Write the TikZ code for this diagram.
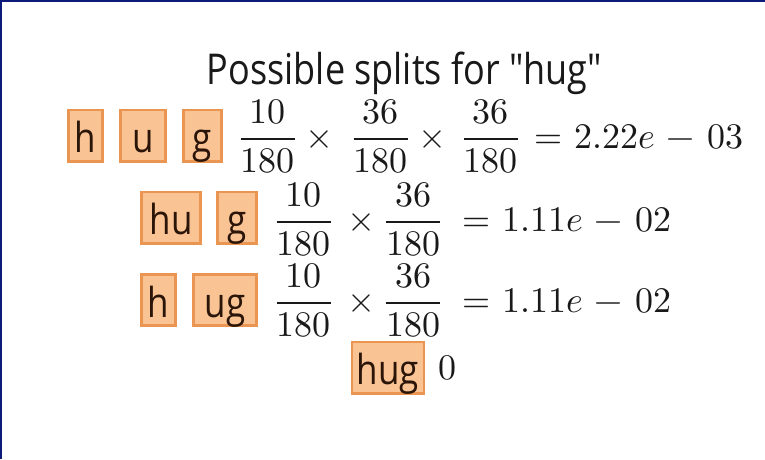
\documentclass[tikz,border=0pt]{standalone}
\usepackage{fontspec}
\usepackage{unicode-math}
\setmathfont{Latin Modern Math}
\usepackage{graphicx}
\newfontfamily\osans{Open Sans}
\definecolor{boxedge}{HTML}{EB9552}
\definecolor{boxfill}{HTML}{F9C394}
\definecolor{toktext}{HTML}{2A1508}
\definecolor{framec}{HTML}{0D1A7A}
\newcommand\vs[1]{\scalebox{1}[1.18]{#1}}
\begin{document}
\begin{tikzpicture}[x=1pt,y=-1pt,
  every node/.style={inner sep=0pt, font=\fontsize{36}{40}\selectfont, text=black!90},
  tok/.style={draw=boxedge, fill=boxfill, line width=2.8pt, minimum height=51.2pt,
    text height=38pt, text depth=4pt, inner xsep=5pt, inner ysep=0pt, text=toktext,
    font=\osans\fontsize{35}{40}\selectfont},
  mth/.style={anchor=base},
  eq/.style={anchor=base west, execute at begin node={\medmuskip=6mu\thickmuskip=6mu}}]
\useasboundingbox (0,0) rectangle (765,459);
\fill[white] (0,0) rectangle (765,459);
\coordinate (tr) at (765,1);
\coordinate (bl) at (1,459);
\draw[framec, line width=2pt] (bl) |- (tr);
% title
\node[anchor=base, font=\osans\fontsize{36}{40}\selectfont] (title) at (404.5,84) {\vs{Possible splits for "hug"}};
% row 1
\node[tok, minimum width=34.2pt] (r1h) at (85.5,135.5) {\vs{h}};
\node[tok, minimum width=45.2pt] (r1u) at (143,135.5) {\vs{u}};
\node[tok, minimum width=38.2pt] (r1g) at (202.5,135.5) {\vs{g}};
\node[mth] (f11) at (267.5,148) {$\displaystyle\frac{10}{180}$};
\node[mth] (x11) at (319.5,148) {$\times$};
\node[mth] (f12) at (380.5,148) {$\displaystyle\frac{36}{180}$};
\node[mth] (x12) at (432,148) {$\times$};
\node[mth] (f13) at (490.5,148) {$\displaystyle\frac{36}{180}$};
\node[eq] (e1) at (534,148) {$=2.22e-03$};
% row 2
\node[tok, minimum width=59.2pt] (r2hu) at (171,217.5) {\vs{hu}};
\node[tok, minimum width=39.2pt] (r2g) at (237,217.5) {\vs{g}};
\node[mth] (f21) at (303.5,231) {$\displaystyle\frac{10}{180}$};
\node[mth] (x21) at (361,231) {$\times$};
\node[mth] (f22) at (413,231) {$\displaystyle\frac{36}{180}$};
\node[eq] (e2) at (462,231) {$=1.11e-02$};
% row 3
\node[tok, minimum width=34.2pt] (r3h) at (158.5,300) {\vs{h}};
\node[tok, minimum width=63.2pt] (r3ug) at (225,300) {\vs{ug}};
\node[mth] (f31) at (303.5,312) {$\displaystyle\frac{10}{180}$};
\node[mth] (x31) at (361,312) {$\times$};
\node[mth] (f32) at (413,312) {$\displaystyle\frac{36}{180}$};
\node[eq] (e3) at (462,312) {$=1.11e-02$};
% row 4
\node[tok, minimum width=67.2pt] (r4hug) at (388,367.5) {\vs{hug}};
\node[mth] (z4) at (447.5,379) {$0$};
\end{tikzpicture}
\end{document}
